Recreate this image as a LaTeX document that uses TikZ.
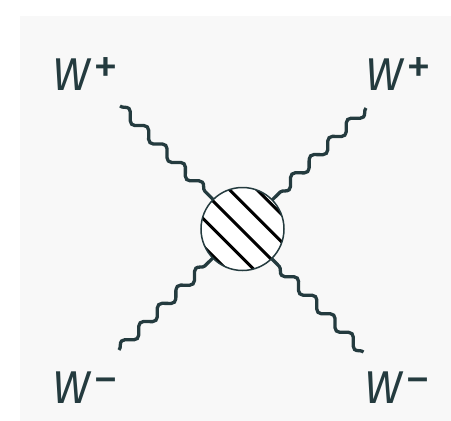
\documentclass[tikz,border=0pt]{standalone}
\usepackage{fontspec}
\setmainfont{Fira Sans}
\usetikzlibrary{decorations.pathmorphing,calc}
\definecolor{wcol}{HTML}{243B3F}
\definecolor{bgcol}{HTML}{F8F8F8}
\newcommand\wlab[1]{{\fontsize{46}{46}\selectfont\itshape W}\hspace{3.5pt}\raisebox{7pt}{\fontsize{50}{50}\selectfont #1}}
\tikzset{
  photon/.style={draw=wcol, line width=3.3pt, decorate,
    decoration={snake, segment length=26pt, amplitude=4.6pt}},
  lab/.style={text=wcol, inner sep=0pt, anchor=base west},
  hatch/.style={draw=black, line width=3pt},
}
\begin{document}
\begin{tikzpicture}[x=1pt,y=-1pt]
\useasboundingbox (0,0) rectangle (451,421);
\fill[bgcol] (20,16) rectangle (451,421);
\coordinate (c) at (242.5,229);
\coordinate (e1) at (120,106);
\coordinate (e2) at (366,108);
\coordinate (e3) at (119,350);
\coordinate (e4) at (363.5,352);
\node[circle, minimum size=83pt, inner sep=0pt] (blob) at (c) {};
\draw[photon] (e1) -- (blob);
\draw[photon] (e2) -- (blob);
\draw[photon] (e3) -- (blob);
\draw[photon] (e4) -- (blob);
\fill[white] (c) circle (41.5);
\begin{scope}
\clip (c) circle (41.5);
\foreach \d in {-38,-18.5,1,20.5,40} {
  \draw[hatch] ($(c)+({-\d*0.7071},{\d*0.7071})+(-60,-60)$) -- ($(c)+({-\d*0.7071},{\d*0.7071})+(60,60)$);
}
\end{scope}
\draw[wcol, line width=1.5pt] (c) circle (41.5);
\node[lab] (l1) at (52,90) {\wlab{+}};
\node[lab] (l2) at (365,90) {\wlab{+}};
\node[lab] (l3) at (52,403) {\wlab{−}};
\node[lab] (l4) at (364,403) {\wlab{−}};
\end{tikzpicture}
\end{document}
